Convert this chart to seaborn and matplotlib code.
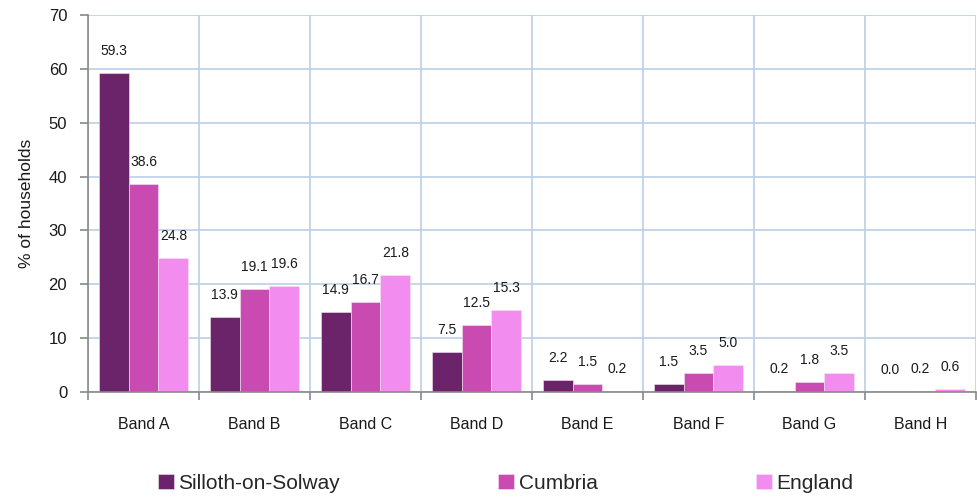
import matplotlib
matplotlib.use("Agg")
import matplotlib.pyplot as plt
import seaborn as sns
import pandas as pd
import numpy as np

bands = ["Band A", "Band B", "Band C", "Band D", "Band E", "Band F", "Band G", "Band H"]
areas = ["Silloth-on-Solway", "Cumbria", "England"]
silloth = [59.3, 13.9, 14.9, 7.5, 2.2, 1.5, 0.2, 0.0]
cumbria = [38.6, 19.1, 16.7, 12.5, 1.5, 3.5, 1.8, 0.2]
england = [24.8, 19.6, 21.8, 15.3, 0.2, 5.0, 3.5, 0.6]
colors = ["#6B2369", "#C94BB2", "#F28CEE"]
y_ticks = [0, 10, 20, 30, 40, 50, 60, 70]

sns.set_theme(style="white")
plt.rcParams["font.family"] = ["Liberation Sans", "DejaVu Sans"]

rows = []
for area, vals in zip(areas, [silloth, cumbria, england]):
    for b, v in zip(bands, vals):
        rows.append({"band": b, "area": area, "value": v})
df = pd.DataFrame(rows)

fig = plt.figure(figsize=(9.77, 4.97), dpi=100)
ax = fig.add_axes([88/977, 105/497, 888/977, 377/497])

sns.barplot(data=df, x="band", y="value", hue="area", hue_order=areas,
            order=bands, palette=colors, width=0.81, saturation=1,
            edgecolor="#F4E6F2", linewidth=0.4, ax=ax, legend=True, errorbar=None)

ax.set_xlim(-0.5, len(bands) - 0.5)
ax.set_ylim(0, 70)
ax.set_yticks(y_ticks)
ax.set_xticks(np.arange(-0.5, len(bands), 1.0), minor=True)

grid_c = "#BCD0E8"
ax.grid(axis="y", which="major", color=grid_c, linewidth=1.2)
ax.grid(axis="x", which="minor", color=grid_c, linewidth=1.2)
ax.grid(axis="x", which="major", visible=False)
ax.set_axisbelow(True)

spine_c = "#898989"
for s in ["top", "right"]:
    ax.spines[s].set_visible(False)
for s in ["left", "bottom"]:
    ax.spines[s].set_color(spine_c)
    ax.spines[s].set_linewidth(1.2)

ax.tick_params(axis="y", which="major", left=True, length=6, width=1.2,
               color=spine_c, pad=9, labelsize=12, labelcolor="#1a1a1a")
ax.tick_params(axis="x", which="major", bottom=False, length=0, pad=18,
               labelsize=11.5, labelcolor="#1a1a1a")
ax.tick_params(axis="x", which="minor", bottom=True, length=6, width=1.2,
               color=spine_c)

ax.set_xlabel("")
ax.set_ylabel("% of households", fontsize=12.5, color="#1a1a1a", va="center")
ax.yaxis.set_label_coords((27 - 88) / 888, 0.5)

for cont in ax.containers:
    for p in cont.patches:
        h = p.get_height()
        ax.annotate(f"{h:.1f}", (p.get_x() + p.get_width() / 2, h),
                    xytext=(0, 22), textcoords="offset pixels",
                    ha="center", va="center", fontsize=10, color="#1a1a1a")

handles, labels = ax.get_legend_handles_labels()
ax.get_legend().remove()
fig.legend(handles, labels, loc="center", bbox_to_anchor=(0.5175, 0.028),
           ncol=3, frameon=False, fontsize=15, handlelength=0.77,
           handleheight=0.77, handletextpad=0.2, columnspacing=7.6,
           borderaxespad=0, borderpad=0)

fig.savefig("out.png", dpi=100)
